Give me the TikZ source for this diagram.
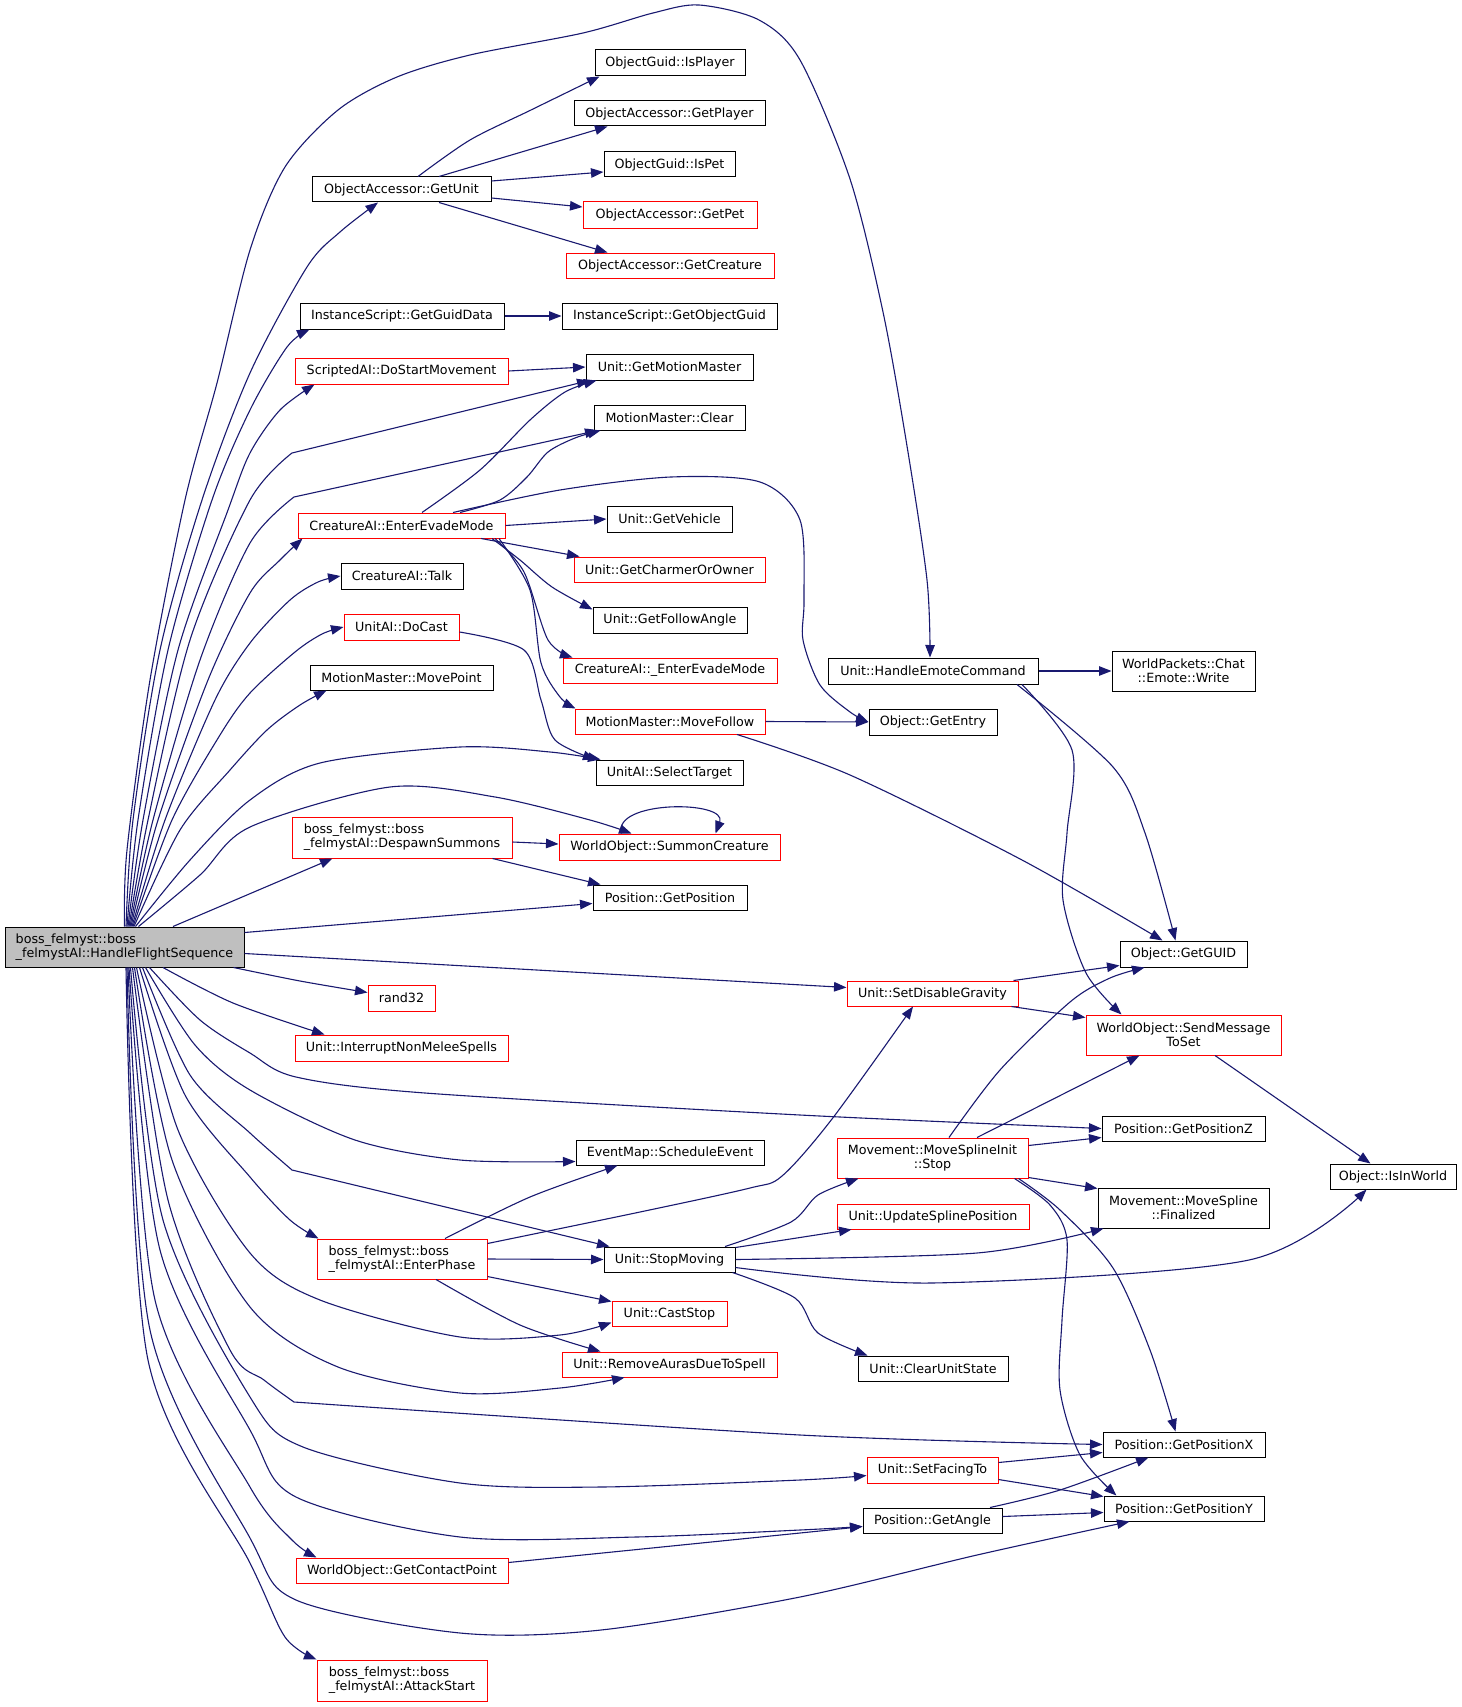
\documentclass[tikz,border=0pt]{standalone}
\usepackage{fontspec}
\setmainfont{DejaVu Sans}
\usetikzlibrary{arrows.meta}
\definecolor{edgeblue}{RGB}{25,25,112}
\definecolor{nodered}{RGB}{255,0,0}
\definecolor{hlgray}{RGB}{191,191,191}
\newcommand\mknode[7]{%
 \pgfmathsetmacro\mkw{#5-#3}\pgfmathsetmacro\mkh{#6-#4}%
 \pgfmathsetmacro\mkx{(#3+#5)/2}\pgfmathsetmacro\mky{(#4+#6)/2}%
 \node[#2, minimum width=\mkw pt, minimum height=\mkh pt] (#1) at (\mkx,\mky) {#7};}
\begin{document}
\begin{tikzpicture}[x=1pt,y=-1pt,
 fn/.style={draw=black, line width=1pt, rectangle, inner sep=0pt, font=\fontsize{12.7}{14.3}\selectfont, align=center},
 rn/.style={fn, draw=nodered},
 hn/.style={fn, fill=hlgray, align=left},
 rl/.style={rn, align=left},
 conn/.style={draw=edgeblue, line width=1.1pt, -{Triangle[length=12.5pt,width=9.5pt]}}]
\useasboundingbox[fill=white] (0,0) rectangle (1461,1707);
% nodes
\mknode{H}{hn}{5}{927}{244}{967}{boss\_felmyst::boss\\\_felmystAI::HandleFlightSequence}
\mknode{IP}{fn}{595}{50}{745}{76}{ObjectGuid::IsPlayer}
\mknode{GPl}{fn}{574}{101}{765}{126}{ObjectAccessor::GetPlayer}
\mknode{IPe}{fn}{604}{152}{735}{177}{ObjectGuid::IsPet}
\mknode{GPe}{rn}{583}{202}{757}{228}{ObjectAccessor::GetPet}
\mknode{GC}{rn}{566}{253}{774}{278}{ObjectAccessor::GetCreature}
\mknode{GU}{fn}{312}{177}{491}{202}{ObjectAccessor::GetUnit}
\mknode{GGD}{fn}{300}{303}{504}{329}{InstanceScript::GetGuidData}
\mknode{GOG}{fn}{562}{303}{777}{329}{InstanceScript::GetObjectGuid}
\mknode{DSM}{rn}{295}{358}{508}{384}{ScriptedAI::DoStartMovement}
\mknode{GMM}{fn}{586}{354}{753}{380}{Unit::GetMotionMaster}
\mknode{MMC}{fn}{594}{405}{745}{430}{MotionMaster::Clear}
\mknode{EEM}{rn}{298}{513}{505}{538}{CreatureAI::EnterEvadeMode}
\mknode{GV}{fn}{607}{506}{732}{532}{Unit::GetVehicle}
\mknode{GCO}{rn}{574}{557}{765}{582}{Unit::GetCharmerOrOwner}
\mknode{TK}{fn}{341}{563}{463}{589}{CreatureAI::Talk}
\mknode{GFA}{fn}{593}{607}{747}{633}{Unit::GetFollowAngle}
\mknode{DC}{rn}{344}{614}{459}{640}{UnitAI::DoCast}
\mknode{EEMb}{rn}{563}{658}{777}{683}{CreatureAI::\_EnterEvadeMode}
\mknode{MP}{fn}{310}{665}{493}{690}{MotionMaster::MovePoint}
\mknode{MF}{rn}{575}{709}{765}{734}{MotionMaster::MoveFollow}
\mknode{HEC}{fn}{828}{658}{1038}{684}{Unit::HandleEmoteCommand}
\mknode{EW}{fn}{1112}{651}{1255}{691}{WorldPackets::Chat\\::Emote::Write}
\mknode{GE}{fn}{869}{709}{997}{735}{Object::GetEntry}
\mknode{ST}{fn}{596}{760}{743}{785}{UnitAI::SelectTarget}
\mknode{SC}{rn}{559}{834}{780}{860}{WorldObject::SummonCreature}
\mknode{DS}{rl}{292}{817}{512}{858}{boss\_felmyst::boss\\\_felmystAI::DespawnSummons}
\mknode{GP}{fn}{593}{885}{747}{910}{Position::GetPosition}
\mknode{GG}{fn}{1120}{941}{1247}{967}{Object::GetGUID}
\mknode{SDG}{rn}{847}{981}{1018}{1006}{Unit::SetDisableGravity}
\mknode{RND}{rn}{368}{985}{435}{1011}{rand32}
\mknode{SMT}{rn}{1086}{1015}{1281}{1055}{WorldObject::SendMessage\\ToSet}
\mknode{INM}{rn}{295}{1035}{508}{1061}{Unit::InterruptNonMeleeSpells}
\mknode{GPZ}{fn}{1102}{1116}{1265}{1141}{Position::GetPositionZ}
\mknode{SE}{fn}{576}{1140}{764}{1165}{EventMap::ScheduleEvent}
\mknode{MSS}{rn}{837}{1138}{1028}{1178}{Movement::MoveSplineInit\\::Stop}
\mknode{IIW}{fn}{1330}{1164}{1456}{1189}{Object::IsInWorld}
\mknode{MSF}{fn}{1098}{1188}{1269}{1228}{Movement::MoveSpline\\::Finalized}
\mknode{USP}{rn}{837}{1204}{1029}{1229}{Unit::UpdateSplinePosition}
\mknode{EP}{rl}{317}{1239}{487}{1279}{boss\_felmyst::boss\\\_felmystAI::EnterPhase}
\mknode{SM}{fn}{604}{1247}{735}{1272}{Unit::StopMoving}
\mknode{CS}{rn}{612}{1301}{727}{1326}{Unit::CastStop}
\mknode{RA}{rn}{562}{1352}{777}{1377}{Unit::RemoveAurasDueToSpell}
\mknode{CUS}{fn}{858}{1356}{1008}{1381}{Unit::ClearUnitState}
\mknode{GPX}{fn}{1103}{1432}{1265}{1457}{Position::GetPositionX}
\mknode{SFT}{rn}{867}{1457}{998}{1483}{Unit::SetFacingTo}
\mknode{GA}{fn}{863}{1508}{1002}{1533}{Position::GetAngle}
\mknode{GPY}{fn}{1104}{1496}{1264}{1521}{Position::GetPositionY}
\mknode{GCP}{rn}{296}{1558}{508}{1583}{WorldObject::GetContactPoint}
\mknode{AS}{rl}{317}{1660}{487}{1701}{boss\_felmyst::boss\\\_felmystAI::AttackStart}
% edges from H, top side
\draw[conn] plot[smooth] coordinates {(H.north) (127,850) (150,680) (185,500) (217,383) (250,250) (285,167) (338,110) (397,77) (470,55) (583,33) (653,13) (699,5) (759,20) (800,60) (850,179) (883,312) (907,446) (927,580) ([xshift=-3pt]HEC.north)};
\draw[conn] plot[smooth] coordinates {([xshift=1.5pt]H.north) (133,820) (160,650) (202,500) (250,373) (307,267) (340,232) ([xshift=-23.5pt]GU.south)};
\draw[conn] plot[smooth] coordinates {([xshift=2.5pt]H.north) (138,820) (168,650) (212,500) (250,410) (287,347) ([xshift=10pt]GGD.south west)};
\draw[conn] plot[smooth] coordinates {([xshift=3.5pt]H.north) (143,820) (178,650) (228,510) (250,453) (280,410) ([xshift=20pt]DSM.south west)};
\draw[conn] plot[smooth] coordinates {([xshift=4.5pt]H.north) (148,820) (190,640) (250,500) (292,453)} -- ([xshift=4pt]GMM.south west);
\draw[conn] plot[smooth] coordinates {([xshift=5.5pt]H.north) (153,820) (200,660) (250,543) (294,497)} -- ([xshift=4pt]MMC.south west);
\draw[conn] plot[smooth] coordinates {([xshift=6.5pt]H.north) (158,820) (208,680) (250,593) (280,560) ([xshift=5pt]EEM.south west)};
\draw[conn] plot[smooth] coordinates {([xshift=7.5pt]H.north) (165,820) (215,700) (250,643) (290,600) (318,582) (TK.west)};
\draw[conn] plot[smooth] coordinates {([xshift=8.5pt]H.north) (172,820) (220,735) (250,693) (295,652) (322,634) (DC.west)};
\draw[conn] plot[smooth] coordinates {([xshift=9.5pt]H.north) (180,830) (230,770) (267,730) (300,705) ([xshift=17pt]MP.south west)};
\draw[conn] plot[smooth] coordinates {([xshift=11pt]H.north) (190,860) (250,800) (320,763) (460,747) (550,752) ([xshift=5pt]ST.north west)};
\draw[conn] plot[smooth] coordinates {([xshift=14pt]H.north) (200,875) (250,827) (390,787) (495,797) (590,820) ([xshift=73pt]SC.north west)};
% edges from H, right side
\draw[conn] ([xshift=48.5pt]H.north) -- ([xshift=41pt]DS.south west);
\draw[conn] ([yshift=-6pt]H.north east) -- ([yshift=-19pt]GP.north west);
\draw[conn] ([yshift=-27pt]H.north east) -- ([yshift=-7pt]SDG.north west);
\draw[conn] plot[smooth] coordinates {([xshift=-11pt]H.south east) (300,981) ([yshift=-8pt]RND.north west)};
\draw[conn] plot[smooth] coordinates {([xshift=38.5pt]H.south) (233,1003) ([xshift=30pt]INM.north west)};
% edges from H, bottom side
\draw[conn] plot[smooth] coordinates {([xshift=25pt]H.south) (200,1020) (250,1053) (296,1077) (425,1093) (800,1115) (GPZ.west)};
\draw[conn] plot[smooth] coordinates {([xshift=21pt]H.south) (195,1045) (250,1090) (355,1140) (460,1160) ([yshift=-9pt]SE.west)};
\draw[conn] plot[smooth] coordinates {([xshift=18pt]H.south) (190,1075) (250,1133) (292,1170)} -- ([xshift=6pt]SM.north west);
\draw[conn] plot[smooth] coordinates {([xshift=15pt]H.south) (185,1095) (250,1177) (290,1220) ([xshift=2pt]EP.north west)};
\draw[conn] plot[smooth] coordinates {([xshift=12pt]H.south) (178,1130) (250,1253) (320,1300) (460,1337) (560,1335) ([yshift=-22pt]CS.north west)};
\draw[conn] plot[smooth] coordinates {([xshift=10pt]H.south) (172,1160) (250,1307) (338,1367) (460,1393) (560,1388) ([xshift=63pt]RA.south west)};
\draw[conn] plot[smooth] coordinates {([xshift=8pt]H.south) (168,1200) (230,1350) (264,1380) (294,1402)} -- plot[smooth] coordinates {(294,1402) (800,1435) (GPX.west)};
\draw[conn] plot[smooth] coordinates {([xshift=6pt]H.south) (163,1220) (250,1397) (303,1447) (460,1483) (601,1487) (800,1480) ([yshift=-19pt]SFT.north west)};
\draw[conn] plot[smooth] coordinates {([xshift=4.5pt]H.south) (160,1250) (250,1430) (296,1497) (460,1537) (636,1537) (800,1530) ([yshift=-19pt]GA.north west)};
\draw[conn] plot[smooth] coordinates {([xshift=3.5pt]H.south) (155,1300) (250,1487) (292,1540) ([xshift=21pt]GCP.north west)};
\draw[conn] plot[smooth] coordinates {([xshift=2.5pt]H.south) (150,1330) (250,1538) (296,1600) (460,1633) (601,1630) (800,1597) (977,1555) ([xshift=26pt]GPY.south west)};
\draw[conn] plot[smooth] coordinates {([xshift=1.5pt]H.south) (148,1360) (250,1563) (285,1637) (AS.north west)};
% ObjectAccessor::GetUnit
\draw[conn] plot[smooth] coordinates {([xshift=16.5pt]GU.north) (470,140) (531,110) ([xshift=5pt]IP.south west)};
\draw[conn] ([xshift=37.5pt]GU.north) -- ([xshift=34pt]GPl.south west);
\draw[conn] ([yshift=8.5pt]GU.east) -- ([yshift=-7.5pt]IPe.west);
\draw[conn] ([yshift=-8.5pt]GU.east) -- ([yshift=8pt]GPe.west);
\draw[conn] ([xshift=37.5pt]GU.south) -- ([xshift=42pt]GC.north west);
\draw[conn] (GGD.east) -- (GOG.west);
\draw[conn] (DSM.east) -- (GMM.west);
% CreatureAI::EnterEvadeMode
\draw[conn] plot[smooth] coordinates {([xshift=20.5pt]EEM.north) (480,470) (530,420) (565,392) ([xshift=11pt]GMM.south west)};
\draw[conn] plot[smooth] coordinates {([xshift=58.5pt]EEM.north) (500,500) (527,477) (548,452) (575,438) ([xshift=7pt]MMC.south west)};
\draw[conn] plot[smooth] coordinates {([xshift=51.5pt]EEM.north) (560,490) (671,477) (760,482) (800,520) (804,600) (803,640) (820,685) (850,712) (GE.west)};
\draw[conn] (EEM.east) -- (GV.west);
\draw[conn] ([xshift=79.5pt]EEM.south) -- ([xshift=6pt]GCO.north west);
\draw[conn] plot[smooth] coordinates {([xshift=90.5pt]EEM.south) (520,560) (552,587) ([yshift=-3pt]GFA.north west)};
\draw[conn] plot[smooth] coordinates {([xshift=93.5pt]EEM.south) (524,572) (548,640) ([xshift=10pt]EEMb.north west)};
\draw[conn] plot[smooth] coordinates {([xshift=97.5pt]EEM.south) (530,590) (541,663) (560,697) ([xshift=1pt]MF.north west)};
\draw[conn] plot[smooth] coordinates {([yshift=-5pt]DC.east) (524,650) (541,700) (555,740) (ST.north west)};
% MoveFollow, HandleEmoteCommand
\draw[conn] (MF.east) -- (GE.west);
\draw[conn] plot[smooth] coordinates {([xshift=67pt]MF.south) (850,775) (1022,860) ([xshift=43pt]GG.north west)};
\draw[conn] (HEC.east) -- (EW.west);
\draw[conn] plot[smooth] coordinates {([xshift=84pt]HEC.south) (1113,767) (1145,833) ([xshift=56pt]GG.north west)};
\draw[conn] plot[smooth] coordinates {([xshift=89pt]HEC.south) (1072,750) (1067,833) (1063,900) (1086,973) ([xshift=36pt]SMT.north west)};
% SummonCreature
\draw[conn] ([yshift=-4.5pt]DS.east) -- ([yshift=3pt]SC.west);
\draw[conn] ([xshift=-20pt]DS.south east) -- ([xshift=8pt]GP.north west);
\draw[conn] ([xshift=63pt]SC.north west) .. controls (612,800) and (728,800) .. ([xshift=157pt]SC.north west);
% SetDisableGravity, SendMessageToSet
\draw[conn] ([xshift=-5pt]SDG.north east) -- ([yshift=2pt]GG.south west);
\draw[conn] ([xshift=-7pt]SDG.south east) -- ([yshift=-3pt]SMT.north west);
\draw[conn] ([xshift=31.5pt]SMT.south) -- ([xshift=41pt]IIW.north west);
% MoveSplineInit::Stop
\draw[conn] plot[smooth] coordinates {([xshift=16.5pt]MSS.north) (1000,1070) (1070,1002) (1110,978) ([xshift=25pt]GG.south west)};
\draw[conn] ([xshift=44.5pt]MSS.north) -- ([xshift=54pt]SMT.south west);
\draw[conn] ([yshift=-8pt]MSS.north east) -- ([yshift=-22pt]GPZ.north west);
\draw[conn] ([yshift=1pt]MSS.south east) -- ([yshift=-1pt]MSF.north west);
\draw[conn] plot[smooth] coordinates {([xshift=-10pt]MSS.south east) (1060,1210) (1113,1268) (1150,1350) ([xshift=73pt]GPX.north west)};
\draw[conn] plot[smooth] coordinates {([xshift=-14pt]MSS.south east) (1050,1205) (1067,1240) (1062,1320) (1060,1390) (1080,1455) ([xshift=13pt]GPY.north west)};
% EnterPhase
\draw[conn] plot[smooth] coordinates {([xshift=43pt]EP.north) (530,1197) ([xshift=42pt]SE.south west)};
\draw[conn] plot[smooth] coordinates {([yshift=-5pt]EP.north east) (640,1212) (750,1188) (782,1176) (832,1119) ([xshift=-19.5pt]SDG.south)};
\draw[conn] (EP.east) -- (SM.west);
\draw[conn] ([yshift=3pt]EP.south east) -- ([yshift=-1pt]CS.north west);
\draw[conn] plot[smooth] coordinates {([xshift=34pt]EP.south) (520,1325) ([xshift=39pt]RA.north west)};
% StopMoving
\draw[conn] plot[smooth] coordinates {([xshift=55.5pt]SM.north) (791,1222) (818,1195) ([xshift=22pt]MSS.south west)};
\draw[conn] ([yshift=-1pt]SM.north east) -- ([xshift=15pt]USP.south west);
\draw[conn] plot[smooth] coordinates {(SM.east) (977,1253) ([xshift=6pt]MSF.south west)};
\draw[conn] plot[smooth] coordinates {([yshift=5pt]SM.south east) (931,1283) (1249,1260) ([xshift=37pt]IIW.south west)};
\draw[conn] plot[smooth] coordinates {([xshift=-3pt]SM.south east) (795,1298) (818,1333) ([xshift=10pt]CUS.north west)};
% SetFacingTo, GetAngle, GetContactPoint
\draw[conn] ([yshift=-6pt]SFT.north east) -- ([yshift=-21pt]GPX.north west);
\draw[conn] ([yshift=4pt]SFT.south east) -- ([yshift=-1pt]GPY.north west);
\draw[conn] plot[smooth] coordinates {([xshift=57.5pt]GA.north) (1060,1490) ([xshift=46pt]GPX.south west)};
\draw[conn] ([yshift=-9pt]GA.north east) -- ([yshift=-17pt]GPY.north west);
\draw[conn] plot[smooth] coordinates {([yshift=-5pt]GCP.north east) (800,1533) ([yshift=-19pt]GA.north west)};
\end{tikzpicture}
\end{document}
